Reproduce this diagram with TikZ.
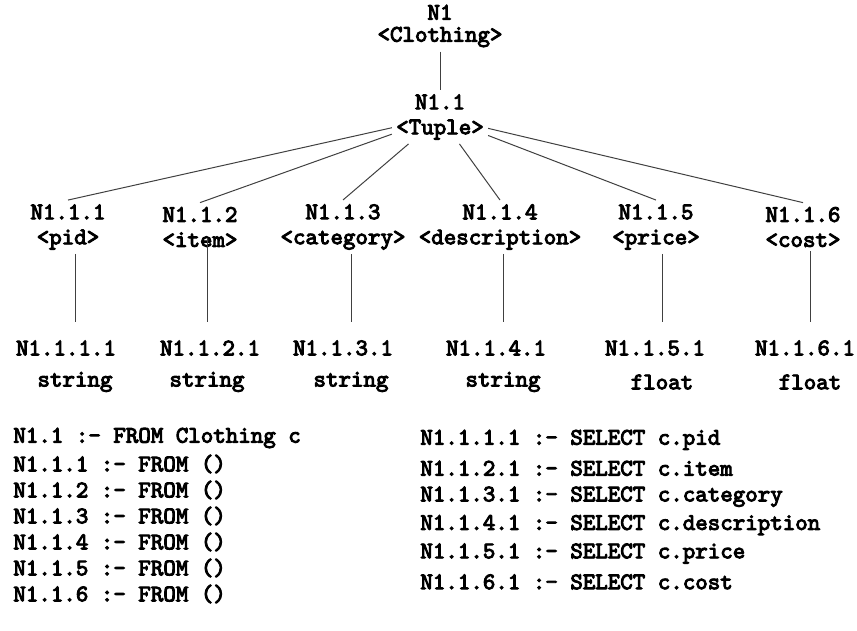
\documentclass[tikz,border=0pt]{standalone}
\usepackage{fontspec}
\newfontfamily\codefont{lmmono10-regular.otf}[AutoFakeBold = 4]
\usepackage{tikz}

\begin{document}
\begin{tikzpicture}[x = 0.5pt, y = -0.5pt,
    main/.style = {font = \codefont\bfseries\fontsize{11.9}{12.5}\selectfont, align = center, inner sep = 2pt},
    rule/.style = {draw = black!75, line width = 0.5pt},
    code/.style = {font = \codefont\bfseries\fontsize{11.9}{12.5}\selectfont, anchor = west, inner sep = 0pt}]
                \useasboundingbox (0,0) rectangle (857,631);

                \node[main] (n1) at (440,26) {N1\\[-1.5pt]<Clothing>};
                \node[main] (tup) at (440,117) {N1.1\\<Tuple>};
                \draw[rule] (n1) -- (tup);

                \foreach \tag/\cx/\lx/\tx/\type/\sh [count = \i] in
                    {pid/68/66/75/string/0pt, item/200/210/207/string/-6pt,
                     category/343/343/351/string/0pt, description/500/496/503/string/0pt,
                     price/656/655/662/float/0pt, cost/803/805/810/float/0pt} {
                    \node[main] (c\i) at (\cx,227) {N1.1.\i\\<\tag>};
                    \node[main] (l\i) at (\lx,348) {N1.1.\i.1};
                    \node[main] (t\i) at (\tx,382) {\type};
                    \draw[rule] (tup) -- (c\i.north);
                    \draw[rule, shorten <= \sh, shorten >= 7pt] (t\i |- c\i.south) -- (t\i |- l\i.north);
                }

                \foreach \txt [count = \i] in
                    {N1.1 :- FROM Clothing c, N1.1.1 :- FROM (), N1.1.2 :- FROM (),
                     N1.1.3 :- FROM (), N1.1.4 :- FROM (), N1.1.5 :- FROM (), N1.1.6 :- FROM ()} {
                    \node[code] (f\i) at (13,{412+26*\i}) {\txt};
                }

                \foreach \txt [count = \i] in
                    {N1.1.1.1 :- SELECT c.pid, N1.1.2.1 :- SELECT c.item,
                     N1.1.3.1 :- SELECT c.category, N1.1.4.1 :- SELECT c.description,
                     N1.1.5.1 :- SELECT c.price, N1.1.6.1 :- SELECT c.cost} {
                    \node[code] (s\i) at (420,{411.5+28.4*\i}) {\txt};
                }
            \end{tikzpicture}
\end{document}
